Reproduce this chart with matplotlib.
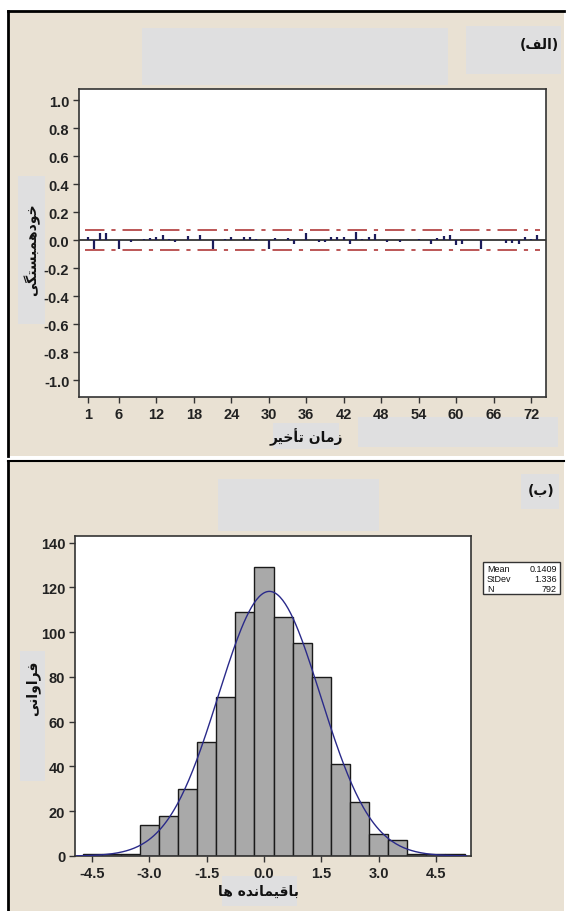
import matplotlib
matplotlib.use('Agg')
import matplotlib.pyplot as plt
import numpy as np
from matplotlib.patches import Rectangle
from matplotlib.lines import Line2D

# ---- data ----
lags = np.arange(1, 74)
acf_vals = [0.02, -0.065, 0.05, 0.055, 0.005, -0.06, 0.0, -0.01, 0.0, 0.01,
            0.015, 0.02, 0.04, 0.01, -0.01, 0.005, 0.03, 0.005, 0.04, 0.0,
            -0.065, 0.005, 0.01, 0.02, 0.005, 0.02, 0.02, 0.01, 0.005, -0.06,
            0.015, 0.005, 0.015, -0.025, 0.005, 0.05, 0.005, -0.01, -0.01, 0.02,
            0.025, 0.025, -0.03, 0.06, 0.01, 0.025, 0.045, 0.0, -0.015, 0.0,
            -0.01, 0.0, 0.0, 0.01, 0.005, -0.03, 0.015, 0.03, 0.035, -0.035,
            -0.025, 0.0, 0.0, -0.06, 0.0, 0.005, 0.0, -0.02, -0.02, -0.03,
            0.02, 0.01, 0.035]
acf_xticks = [1, 6, 12, 18, 24, 30, 36, 42, 48, 54, 60, 66, 72]
acf_yticks = [-1.0, -0.8, -0.6, -0.4, -0.2, 0.0, 0.2, 0.4, 0.6, 0.8, 1.0]

bin_centers = np.arange(-4.5, 5.01, 0.5)
bin_counts = [1, 1, 1, 14, 18, 30, 51, 71, 109, 129, 107, 95, 80, 41, 24, 10, 7, 1, 1, 1]
hist_xticks = [-4.5, -3.0, -1.5, 0.0, 1.5, 3.0, 4.5]
hist_yticks = [0, 20, 40, 60, 80, 100, 120, 140]
res_mean = 0.1409
res_std = 1.336
res_n = 792

# Persian labels, written in presentation forms (visual order) so they join correctly
title_a = "(\uFED2\uFEDF\uFE8D)"                                  # (الف)
title_b = "(\uFE8F)"                                              # (ب)
acf_ylabel = "\uFBFD\uFB95\uFE98\uFEB4\uFE92\uFEE4\uFEEB\uFEA9\uFEEE\uFEA7"   # خودهمبستگی
acf_xlabel = "\uFEAE\uFBFF\uFEA7\uFE84\uFE97 \uFEE5\uFE8E\uFEE3\uFEAF"        # زمان تأخیر
hist_ylabel = "\uFBFD\uFEE7\uFE8D\uFEED\uFE8D\uFEAE\uFED3"                    # فراوانی
hist_xlabel = "\uFE8E\uFEEB \uFEE9\uFEAA\uFEE7\uFE8E\uFEE4\uFBFF\uFED7\uFE8E\uFE91"  # باقیمانده ها

W, H = 571, 912
beige = '#e9e1d3'
grey_box = '#dfdfe0'
tick_font = ['Liberation Sans', 'DejaVu Sans']
plt.rcParams['lines.scale_dashes'] = False

fig = plt.figure(figsize=(W / 100, H / 100), dpi=100)
fig.patch.set_facecolor('white')


def rect(x0, y0, x1, y1):
    return [x0 / W, 1 - y1 / H, (x1 - x0) / W, (y1 - y0) / H]


def add_box(x0, y0, x1, y1, color, z=0):
    r = rect(x0, y0, x1, y1)
    fig.patches.append(Rectangle((r[0], r[1]), r[2], r[3], transform=fig.transFigure,
                                 facecolor=color, edgecolor='none', zorder=z))


def add_line(xs, ys, lw=2):
    fig.lines.append(Line2D([x / W for x in xs], [1 - y / H for y in ys],
                            transform=fig.transFigure, color='black', lw=lw))


def ftext(x, y, s, **kw):
    fig.text(x / W, 1 - y / H, s, **kw)


# panels
add_box(8, 12, 564, 457, beige)
add_box(8, 462, 564, 912, beige)
add_line([8, 8], [12, 457])
add_line([8, 564], [12, 12])
add_line([8, 8], [462, 912])
add_line([8, 564], [462, 462], lw=1.5)

# light grey blocks
add_box(142, 29, 448, 86, grey_box, 1)
add_box(466, 27, 561, 75, grey_box, 1)
add_box(18, 177, 45, 325, grey_box, 1)
add_box(273, 424, 339, 450, grey_box, 1)
add_box(358, 418, 558, 448, grey_box, 1)
add_box(218, 480, 379, 532, grey_box, 1)
add_box(521, 475, 559, 510, grey_box, 1)
add_box(20, 652, 45, 782, grey_box, 1)
add_box(222, 877, 297, 907, grey_box, 1)

lab_kw = dict(family=['DejaVu Sans'], fontweight='bold', fontsize=10, color='#111111',
              ha='center', va='center', zorder=3)
ftext(539, 45, title_a, **lab_kw)
ftext(541, 491, title_b, **lab_kw)
ftext(32, 250, acf_ylabel, rotation=90, **lab_kw)
ftext(306, 437, acf_xlabel, **lab_kw)
ftext(33, 688, hist_ylabel, rotation=90, **lab_kw)
ftext(259, 892, hist_xlabel, **lab_kw)

# ---- ACF panel ----
ax1 = fig.add_axes(rect(79, 90, 546, 398))
ax1.set_zorder(2)
ax1.vlines(lags, 0, acf_vals, color='#1c1c5a', lw=1.6, zorder=3)
ax1.axhline(0, color='#222222', lw=1.2, zorder=2)
conf = 2 / np.sqrt(res_n)
for s in (1, -1):
    ax1.plot([0.5, lags[-1] + 0.5], [s * conf, s * conf], color='#b03a3a', lw=1.2,
             dashes=(14, 5, 3, 5), zorder=2)
ax1.set_xlim(-0.4, 74.4)
ax1.set_ylim(-1.12, 1.08)
ax1.set_xticks(acf_xticks)
ax1.set_yticks(acf_yticks)
ax1.set_yticklabels(['%.1f' % v for v in acf_yticks])

# ---- histogram panel ----
ax2 = fig.add_axes(rect(75, 537, 471, 857))
ax2.set_zorder(2)
ax2.bar(bin_centers, bin_counts, width=0.5, color='#a9a9a9', edgecolor='#1a1a1a', lw=1.0, zorder=2)
xs = np.linspace(-4.9, 5.3, 300)
curve = res_n * 0.5 / (res_std * np.sqrt(2 * np.pi)) * np.exp(-0.5 * ((xs - res_mean) / res_std) ** 2)
ax2.plot(xs, curve, color='#2a2a8a', lw=1.0, zorder=3)
ax2.set_xlim(-4.95, 5.42)
ax2.set_ylim(0, 143)
ax2.set_xticks(hist_xticks)
ax2.set_xticklabels(['%.1f' % v for v in hist_xticks])
ax2.set_yticks(hist_yticks)

for ax in (ax1, ax2):
    ax.set_facecolor('white')
    for sp in ax.spines.values():
        sp.set_color('#333333')
        sp.set_linewidth(1.2)
    ax.tick_params(direction='out', length=4, width=1, color='#333333', pad=3)
    for lab in ax.get_xticklabels() + ax.get_yticklabels():
        lab.set_family(tick_font)
        lab.set_fontsize(10.5)
        lab.set_fontweight('bold')
        lab.set_color('#222222')

# stats box
add_box(483, 563, 560, 595, 'white', 3)
r = rect(483, 563, 560, 595)
fig.patches.append(Rectangle((r[0], r[1]), r[2], r[3], transform=fig.transFigure,
                             facecolor='none', edgecolor='#333333', lw=1, zorder=4))
st_kw = dict(family=tick_font, fontsize=6.5, color='#111111', va='center', zorder=5)
rows = [('Mean', '%.4f' % res_mean), ('StDev', '%.3f' % res_std), ('N', '%d' % res_n)]
for i, (k, v) in enumerate(rows):
    ftext(487, 570 + i * 10, k, ha='left', **st_kw)
    ftext(557, 570 + i * 10, v, ha='right', **st_kw)

fig.savefig('out.png', dpi=100)
